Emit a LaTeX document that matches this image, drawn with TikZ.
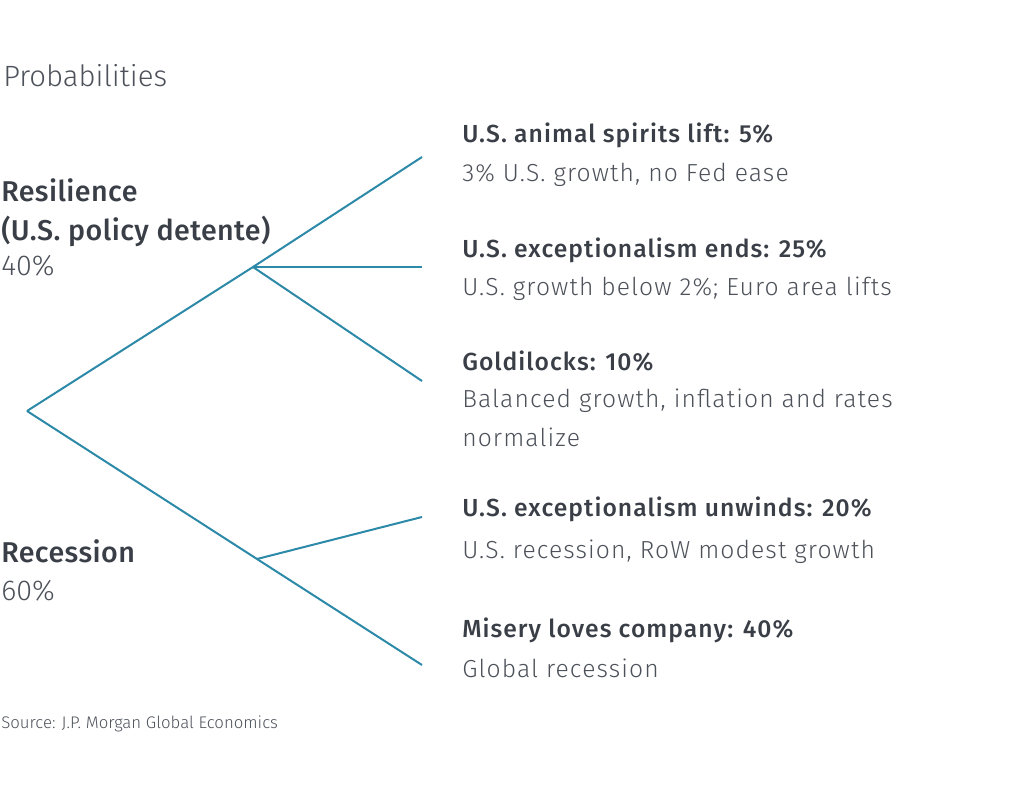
\documentclass[tikz,border=0pt]{standalone}
\usepackage{fontspec}
\setmainfont{Fira Sans Light}[BoldFont={Fira Sans Medium}]
\newfontfamily\descfont{Fira Sans Light}[LetterSpace=4.5]
\newfontfamily\headfont{Fira Sans Medium}[LetterSpace=4.2]
\newfontfamily\bigfont{Fira Sans Medium}[LetterSpace=1.5]
\usepackage{tikz}

\definecolor{branch}{HTML}{2C89A8}
\definecolor{ink}{HTML}{3A3F47}
\definecolor{inklight}{HTML}{4D525A}

\tikzset{
  txt/.style={anchor=base west, inner sep=0pt, text=inklight},
  head/.style={txt, text=ink, font=\fontsize{18.5}{22}\headfont},
  desc/.style={txt, font=\fontsize{18.5}{22}\descfont},
  big/.style={txt, text=ink, font=\fontsize{21.5}{26}\bigfont},
  bigpct/.style={txt, font=\fontsize{21.5}{26}\selectfont},
  line/.style={draw=branch, line width=1.5pt}
}

\begin{document}
\begin{tikzpicture}[x=0.75pt, y=-0.75pt]
    \useasboundingbox (0,0) rectangle (1024,803);
    % Titolo
    \node[txt, font=\fontsize{22}{26}\selectfont] (title) at (3,86) {Probabilities};
    % Punti dell'albero
    \coordinate (root) at (27,411);
    \coordinate (up) at (253,267);
    \coordinate (down) at (257,559);
    \coordinate (e1) at (422,157);
    \coordinate (e2) at (422,267);
    \coordinate (e3) at (422,381);
    \coordinate (e4) at (422,517);
    \coordinate (e5) at (422,665);
    % Rami
    \draw[line] (root) -- (up) -- (e1);
    \draw[line] (up) -- (e2);
    \draw[line] (up) -- (e3);
    \draw[line] (root) -- (down) -- (e5);
    \draw[line] (down) -- (e4);
    % Scenari a sinistra
    \node[big] (resil) at (1,201) {Resilience};
    \node[big] (resilsub) at (1,240) {(U.S. policy detente)};
    \node[bigpct] (resilpct) at (1,275) {40\%};
    \node[big] (reces) at (1,562) {Recession};
    \node[bigpct] (recespct) at (1,600) {60\%};
    % Scenari a destra
    \node[head] (s1) at (462,142) {U.S. animal spirits lift: 5\%};
    \node[desc] (d1) at (462,181) {3\% U.S. growth, no Fed ease};
    \node[head] (s2) at (462,257) {U.S. exceptionalism ends: 25\%};
    \node[desc] (d2) at (462,295) {U.S. growth below 2\%; Euro area lifts};
    \node[head] (s3) at (462,370) {Goldilocks: 10\%};
    \node[desc] (d3) at (462,407) {Balanced growth, inflation and rates};
    \node[desc] (d3b) at (462,446) {normalize};
    \node[head] (s4) at (462,516) {U.S. exceptionalism unwinds: 20\%};
    \node[desc] (d4) at (462,558) {U.S. recession, RoW modest growth};
    \node[head] (s5) at (462,637) {Misery loves company: 40\%};
    \node[desc] (d5) at (462,677) {Global recession};
    % Fonte
    \node[txt, font=\fontsize{12.6}{15}\selectfont] (src) at (1,728) {Source: J.P. Morgan Global Economics};
\end{tikzpicture}
\end{document}
